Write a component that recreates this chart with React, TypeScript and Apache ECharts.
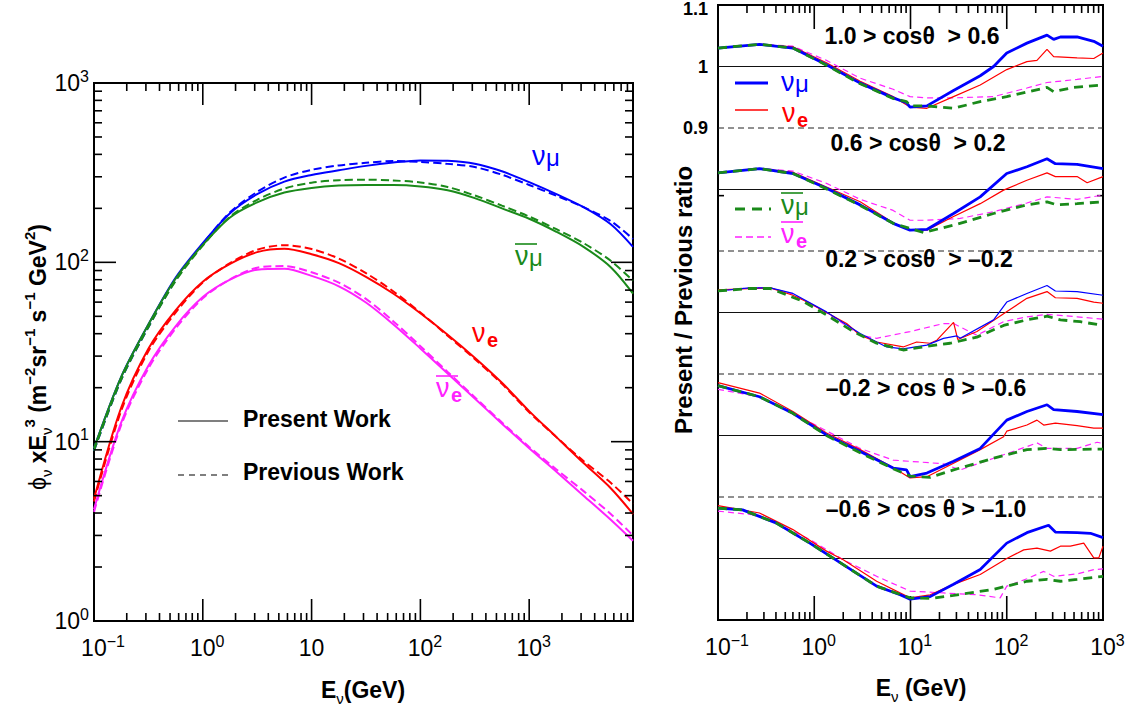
import React, { useEffect, useRef } from 'react';
import * as echarts from 'echarts';

const FONT = '"Liberation Sans", Arial, Helvetica, sans-serif';
const BLUE = '#0000ff';
const RED = '#ff0000';
const GREEN = '#1a8a1a';
const MAGENTA = '#ff22ff';

// ---------- Left panel: flux x E^3 ----------
const fluxEnergy = [0.1, 0.178, 0.316, 0.562, 1, 1.78, 3.16, 5.62, 10, 17.8, 31.6, 56.2, 100, 178, 316, 562, 1000, 1780, 3160, 5620, 9000];
const numuPresent = [9.2, 23, 45, 82, 128, 188, 240, 282, 307, 326, 345, 360, 370, 368, 355, 322, 280, 240, 203, 163, 122];
const numuPrevious = [8.9, 22.2, 43.5, 79.6, 126.7, 190, 247, 297, 328, 347, 359, 367, 363, 354, 340, 308, 270, 235, 203, 170, 135];
const numubarPresent = [9.2, 23, 45, 81, 125, 178, 216, 245, 260, 268, 270, 270, 265, 252, 228, 200, 175, 148, 122, 94, 67];
const numubarPrevious = [8.9, 22.2, 43.5, 78.6, 124, 180, 223, 258, 278, 287, 289, 286, 279, 263, 236, 207, 180, 153, 128, 102, 79];
const nuePresent = [4.8, 15.5, 33, 54, 78, 98, 114, 119, 111, 99, 83, 67, 52, 39.5, 29.4, 21.3, 14.8, 10.6, 7.6, 5.5, 3.95];
const nuePrevious = [4.64, 14.9, 31.9, 52.4, 77.2, 99, 117.5, 124.6, 118.7, 105, 87, 69, 52.5, 39, 28.9, 21, 14.6, 10.6, 7.8, 5.9, 4.5];
const nuebarPresent = [4.2, 12.8, 26.5, 44, 64, 80, 91, 92, 84, 73.5, 59.7, 45.2, 33.1, 24, 17.4, 12.6, 9.2, 6.8, 5.0, 3.67, 2.8];
const nuebarPrevious = [4.06, 12.4, 25.6, 42.7, 63, 80.4, 93.3, 95.3, 88, 77, 62.5, 47, 34.1, 24.5, 17.7, 12.8, 9.35, 7.0, 5.3, 3.95, 3.0];

// ---------- Right panel: present / previous ratio, [E (GeV), ratio] ----------
const zenithBins = ['1.0 > cosθ  > 0.6', '0.6 > cosθ  > 0.2', '0.2 > cosθ  > –0.2', '–0.2 > cos θ > –0.6', '–0.6 > cos θ > –1.0'];

const ratioNumu0 = [[0.1, 1.030], [0.27, 1.036], [0.6, 1.030], [1.34, 1.003], [3.0, 0.973], [6.6, 0.949], [9.1, 0.941], [9.9, 0.934], [14.8, 0.936], [28, 0.961], [53, 0.985], [73, 1.0], [100, 1.022], [162, 1.038], [262, 1.051], [307, 1.044], [361, 1.048], [538, 1.048], [802, 1.041], [1000, 1.033]];
const ratioNue0 = [[0.1, 1.030], [0.27, 1.036], [0.6, 1.032], [1.34, 1.006], [3.0, 0.976], [6.6, 0.951], [9.9, 0.934], [14.8, 0.932], [28, 0.951], [53, 0.970], [100, 0.995], [162, 1.008], [206, 1.010], [262, 1.028], [307, 1.016], [538, 1.014], [802, 1.013], [1000, 1.022]];
const ratioNumubar0 = [[0.1, 1.030], [0.27, 1.036], [0.6, 1.030], [1.34, 1.002], [3.0, 0.972], [6.6, 0.948], [9.1, 0.943], [9.9, 0.936], [14.8, 0.936], [28, 0.932], [53, 0.943], [100, 0.951], [262, 0.966], [307, 0.959], [497, 0.966], [1000, 0.970]];
const ratioNuebar0 = [[0.1, 1.030], [0.27, 1.036], [0.6, 1.033], [1.34, 1.010], [3.0, 0.981], [6.6, 0.963], [9.9, 0.951], [14.8, 0.949], [28, 0.949], [73, 0.951], [162, 0.965], [262, 0.974], [538, 0.979], [1000, 0.984]];

const ratioNumu1 = [[0.1, 1.027], [0.27, 1.034], [0.6, 1.026], [1.34, 1.002], [3.0, 0.975], [6.6, 0.945], [9.9, 0.934], [14.8, 0.935], [28, 0.961], [53, 0.988], [100, 1.026], [162, 1.037], [262, 1.050], [320, 1.042], [538, 1.041], [1000, 1.034]];
const ratioNue1 = [[0.1, 1.027], [0.27, 1.034], [0.6, 1.028], [1.34, 1.004], [3.0, 0.980], [6.6, 0.946], [9.9, 0.934], [14.8, 0.934], [28, 0.956], [53, 0.977], [92.7, 0.999], [162, 1.015], [262, 1.027], [320, 1.021], [538, 1.021], [684, 1.011], [1000, 1.021]];
const ratioNumubar1 = [[0.1, 1.027], [0.27, 1.034], [0.6, 1.026], [1.34, 1.001], [3.0, 0.974], [6.6, 0.945], [13.6, 0.930], [28, 0.942], [73, 0.961], [162, 0.975], [262, 0.980], [333, 0.975], [538, 0.977], [1000, 0.980]];
const ratioNuebar1 = [[0.1, 1.027], [0.27, 1.034], [0.6, 1.030], [1.34, 1.010], [3.0, 0.984], [6.6, 0.966], [9.9, 0.950], [14.8, 0.950], [32.8, 0.953], [73, 0.964], [162, 0.978], [262, 0.988], [538, 0.984], [1000, 0.991]];

const ratioNumu2 = [[0.1, 1.035], [0.21, 1.040], [0.35, 1.040], [0.6, 1.031], [1.34, 1.001], [3.0, 0.966], [5.65, 0.944], [8.4, 0.941], [14.8, 0.947], [22, 0.958], [30.3, 0.962], [32.8, 0.958], [73, 0.988], [100, 1.017], [162, 1.031], [262, 1.044], [320, 1.035], [538, 1.034], [1000, 1.028]];
const ratioNue2 = [[0.1, 1.037], [0.35, 1.040], [0.6, 1.028], [0.9, 1.015], [1.34, 1.0], [2.17, 0.982], [3.0, 0.963], [4.45, 0.952], [8.4, 0.944], [11.6, 0.952], [16, 0.950], [18.8, 0.955], [28, 0.984], [31, 0.956], [49, 0.969], [92.7, 0.998], [162, 1.023], [262, 1.034], [320, 1.024], [538, 1.023], [802, 1.017], [1000, 1.015]];
const ratioNumubar2 = [[0.1, 1.035], [0.21, 1.039], [0.35, 1.039], [0.77, 1.018], [1.34, 0.996], [2.55, 0.969], [4.45, 0.950], [8.4, 0.939], [14.8, 0.945], [25.8, 0.950], [49, 0.960], [92.7, 0.979], [162, 0.988], [262, 0.994], [361, 0.988], [582, 0.985], [1000, 0.979]];
const ratioNuebar2 = [[0.1, 1.035], [0.21, 1.040], [0.35, 1.040], [0.6, 1.030], [1.34, 1.0], [3.0, 0.963], [4.45, 0.958], [9.9, 0.969], [22, 0.982], [28, 0.982], [49, 0.963], [92.7, 0.985], [162, 0.993], [262, 0.997], [538, 0.993], [1000, 0.989]];

const ratioNumu3 = [[0.1, 1.081], [0.27, 1.063], [0.6, 1.036], [1.34, 1.001], [3.0, 0.974], [6.6, 0.947], [9.1, 0.944], [9.9, 0.933], [14.8, 0.939], [28, 0.958], [53, 0.979], [100, 1.025], [162, 1.039], [262, 1.050], [307, 1.042], [538, 1.039], [1000, 1.034]];
const ratioNue3 = [[0.1, 1.086], [0.27, 1.069], [0.6, 1.039], [1.34, 1.004], [3.0, 0.977], [6.6, 0.948], [9.9, 0.931], [14.8, 0.933], [28, 0.955], [53, 0.977], [92.7, 0.998], [100, 1.007], [162, 1.017], [206, 1.025], [242, 1.017], [320, 1.020], [538, 1.016], [802, 1.012], [1000, 1.012]];
const ratioNumubar3 = [[0.1, 1.081], [0.27, 1.063], [0.6, 1.036], [1.34, 1.0], [3.0, 0.972], [6.6, 0.946], [9.9, 0.934], [16, 0.932], [28, 0.944], [73, 0.963], [162, 0.977], [262, 0.979], [361, 0.977], [1000, 0.978]];
const ratioNuebar3 = [[0.1, 1.075], [0.27, 1.063], [0.6, 1.036], [3.0, 0.979], [6.6, 0.960], [9.9, 0.958], [22, 0.954], [32.8, 0.944], [73, 0.963], [162, 0.982], [206, 0.988], [262, 0.979], [538, 0.979], [869, 0.989], [1000, 0.987]];

const ratioNumu4 = [[0.1, 1.082], [0.18, 1.079], [0.4, 1.058], [0.9, 1.025], [2.0, 0.990], [4.45, 0.955], [7.8, 0.941], [9.9, 0.934], [16, 0.938], [28, 0.958], [53, 0.982], [100, 1.025], [162, 1.042], [272, 1.054], [320, 1.043], [538, 1.042], [740, 1.041], [1000, 1.034]];
const ratioNue4 = [[0.1, 1.086], [0.27, 1.074], [0.6, 1.047], [1.34, 1.012], [2.0, 0.998], [4.45, 0.963], [9.9, 0.936], [16, 0.941], [28, 0.958], [53, 0.974], [100, 1.0], [150, 1.014], [206, 1.017], [284, 1.012], [361, 1.020], [458, 1.020], [631, 1.025], [802, 1.001], [904, 1.001], [1000, 1.020]];
const ratioNumubar4 = [[0.1, 1.082], [0.18, 1.079], [0.4, 1.058], [0.9, 1.025], [2.0, 0.990], [4.45, 0.955], [9.9, 0.936], [16, 0.935], [28, 0.940], [73, 0.950], [162, 0.963], [262, 0.966], [361, 0.963], [538, 0.966], [1000, 0.971]];
const ratioNuebar4 = [[0.1, 1.077], [0.27, 1.070], [0.9, 1.031], [2.0, 0.998], [4.45, 0.971], [9.9, 0.947], [22, 0.944], [49, 0.941], [85.5, 0.936], [100, 0.955], [162, 0.967], [242, 0.979], [307, 0.971], [538, 0.975], [802, 0.982], [1000, 0.983]];

const ratioNumu = [ratioNumu0, ratioNumu1, ratioNumu2, ratioNumu3, ratioNumu4];
const ratioNue = [ratioNue0, ratioNue1, ratioNue2, ratioNue3, ratioNue4];
const ratioNumubar = [ratioNumubar0, ratioNumubar1, ratioNumubar2, ratioNumubar3, ratioNumubar4];
const ratioNuebar = [ratioNuebar0, ratioNuebar1, ratioNuebar2, ratioNuebar3, ratioNuebar4];

// Axis values
const leftXDecades = [0.1, 1, 10, 100, 1000];
const leftYDecades = [1, 10, 100, 1000];
const rightXDecades = [0.1, 1, 10, 100, 1000];
const minorSteps = [2, 3, 4, 5, 6, 7, 8, 9];
const blockReference = [1.0, 0.8, 0.6, 0.4, 0.2];
const blockSeparator = [0.9, 0.7, 0.5, 0.3];
const rightYTick = [0.79];

const LEFT_XMAX = 9000;

function minorOf(decades: number[], max: number) {
  const out: number[] = [];
  decades.forEach((d) => minorSteps.forEach((m) => { const v = d * m; if (v <= max) out.push(v); }));
  return out;
}

function renderTicks(params: any, api: any) {
  const cs = params.coordSys;
  const kind = api.value(2);
  const len = api.value(3);
  const p = api.coord([api.value(0), api.value(1)]);
  const l = cs.x, r = cs.x + cs.width, t = cs.y, b = cs.y + cs.height;
  const st = { stroke: '#000', lineWidth: 1.6 };
  if (kind === 0) {
    return { type: 'group', children: [
      { type: 'line', shape: { x1: p[0], y1: b, x2: p[0], y2: b - len }, style: st },
      { type: 'line', shape: { x1: p[0], y1: t, x2: p[0], y2: t + len }, style: st },
    ] };
  }
  if (kind === 1) {
    return { type: 'group', children: [
      { type: 'line', shape: { x1: l, y1: p[1], x2: l + len, y2: p[1] }, style: st },
      { type: 'line', shape: { x1: r, y1: p[1], x2: r - len, y2: p[1] }, style: st },
    ] };
  }
  if (kind === 2) {
    return { type: 'line', shape: { x1: l, y1: p[1], x2: r, y2: p[1] }, style: { stroke: '#111', lineWidth: 1 } };
  }
  return { type: 'line', shape: { x1: l, y1: p[1], x2: r, y2: p[1] }, style: { stroke: '#222', lineWidth: 1, lineDash: [6, 4] } };
}

function powLabel(v: number, plainTen: boolean) {
  const lg = Math.log10(v);
  const p = Math.round(lg);
  if (Math.abs(lg - p) > 1e-6) return '';
  if (p === 1 && plainTen) return '{b|10}';
  const sup = p < 0 ? '−' + Math.abs(p) : String(p);
  return `{${p < 0 ? 'bn' : 'bp'}|10}{s|${sup}}`;
}

const labelRich = {
  b: { fontSize: 23, fontFamily: FONT, color: '#000', lineHeight: 30 },
  bp: { fontSize: 23, fontFamily: FONT, color: '#000', lineHeight: 30, padding: [0, 0, 0, 9] },
  bn: { fontSize: 23, fontFamily: FONT, color: '#000', lineHeight: 30, padding: [0, 0, 0, 18] },
  s: { fontSize: 16, fontFamily: FONT, color: '#000', lineHeight: 16, verticalAlign: 'top' },
};
const yLabelRich = {
  b: { fontSize: 23, fontFamily: FONT, color: '#000', lineHeight: 30 },
  bp: { fontSize: 23, fontFamily: FONT, color: '#000', lineHeight: 30 },
  bn: { fontSize: 23, fontFamily: FONT, color: '#000', lineHeight: 30 },
  s: { fontSize: 16, fontFamily: FONT, color: '#000', lineHeight: 16, verticalAlign: 'top' },
};

function text(x: number, y: number, s: string, o: any = {}) {
  const align = o.align || 'left';
  return {
    type: 'text', x, y, silent: true, rotation: o.rotation || 0,
    style: {
      text: s, fill: o.color || '#000', fontSize: o.size || 23, fontWeight: o.weight || 'normal', fontFamily: FONT,
      align, verticalAlign: 'middle', textAlign: align, textVerticalAlign: 'middle', rich: o.rich,
    },
  };
}
function hline(x1: number, x2: number, y: number, color: string, w: number, dash?: number[]) {
  return { type: 'line', silent: true, shape: { x1, y1: y, x2, y2: y }, style: { stroke: color, lineWidth: w, lineDash: dash } };
}
function nuLabel(x: number, y: number, color: string, flavour: 'mu' | 'e', bar: boolean) {
  const els: any[] = [text(x, y, 'ν', { color, size: 27 })];
  if (flavour === 'mu') els.push(text(x + 14, y + 1, 'μ', { color, size: 24 }));
  else els.push(text(x + 15, y + 7, 'e', { color, size: 20, weight: 'bold' }));
  if (bar) els.push(hline(x, x + 22, y - 12, color, 1.6));
  return els;
}

function buildOption() {
  const series: any[] = [];
  const leftLine = (vals: number[], color: string, dashed: boolean) => ({
    type: 'line', xAxisIndex: 0, yAxisIndex: 0, showSymbol: false, smooth: 0.3, silent: true,
    data: fluxEnergy.map((e, i) => [e, vals[i]]),
    lineStyle: { color, width: 2, type: dashed ? [8, 4] : 'solid' },
  });
  series.push(leftLine(numuPrevious, BLUE, true), leftLine(numuPresent, BLUE, false));
  series.push(leftLine(numubarPrevious, GREEN, true), leftLine(numubarPresent, GREEN, false));
  series.push(leftLine(nuePrevious, RED, true), leftLine(nuePresent, RED, false));
  series.push(leftLine(nuebarPrevious, MAGENTA, true), leftLine(nuebarPresent, MAGENTA, false));

  const rightLine = (pairs: number[][], k: number, color: string, width: number, dash: any) => ({
    type: 'line', xAxisIndex: 1, yAxisIndex: 1, showSymbol: false, silent: true,
    data: pairs.map(([e, r]) => [e, r - 0.2 * k]),
    lineStyle: { color, width, type: dash },
  });
  for (let k = 0; k < 5; k++) {
    series.push(rightLine(ratioNuebar[k], k, MAGENTA, 1.2, [6, 4]));
    series.push(rightLine(ratioNue[k], k, RED, 1.2, 'solid'));
    series.push(rightLine(ratioNumu[k], k, BLUE, k === 2 ? 1.2 : 2.8, 'solid'));
    series.push(rightLine(ratioNumubar[k], k, GREEN, 2.8, [9, 6]));
  }

  const leftTicks: number[][] = [];
  leftXDecades.forEach((v) => leftTicks.push([v, 1, 0, 22]));
  minorOf(leftXDecades, LEFT_XMAX).forEach((v) => leftTicks.push([v, 1, 0, 8]));
  leftYDecades.forEach((v) => leftTicks.push([0.1, v, 1, 22]));
  minorOf(leftYDecades.slice(0, 3), 1000).forEach((v) => leftTicks.push([0.1, v, 1, 8]));
  series.push({ type: 'custom', xAxisIndex: 0, yAxisIndex: 0, data: leftTicks, renderItem: renderTicks, clip: false, silent: true, z: 5 });

  const rightTicks: number[][] = [];
  rightXDecades.forEach((v) => rightTicks.push([v, 0.1, 0, 24]));
  minorOf(rightXDecades.slice(0, 4), 1000).forEach((v) => rightTicks.push([v, 0.1, 0, 8]));
  rightYTick.forEach((v) => rightTicks.push([0.1, v, 1, 6]));
  blockReference.forEach((v) => rightTicks.push([0.1, v, 2, 0]));
  blockSeparator.forEach((v) => rightTicks.push([0.1, v, 3, 0]));
  series.push({ type: 'custom', xAxisIndex: 1, yAxisIndex: 1, data: rightTicks, renderItem: renderTicks, clip: false, silent: true, z: 1 });

  const graphic: any[] = [];
  // left legend
  graphic.push(hline(178, 228, 421, '#000', 1.2));
  graphic.push(hline(178, 228, 475, '#000', 1.2, [6, 5]));
  graphic.push(text(243, 419, 'Present Work', { weight: 'bold', size: 23 }));
  graphic.push(text(243, 472, 'Previous Work', { weight: 'bold', size: 23 }));
  // left curve labels
  graphic.push(...nuLabel(532, 156, BLUE, 'mu', false));
  graphic.push(...nuLabel(515, 256, GREEN, 'mu', true));
  graphic.push(...nuLabel(472, 333, RED, 'e', false));
  graphic.push(...nuLabel(436, 388, MAGENTA, 'e', true));
  // right legend
  graphic.push(hline(735, 768, 83, BLUE, 3));
  graphic.push(hline(735, 768, 110, RED, 1.3));
  graphic.push(hline(735, 771, 209, GREEN, 3, [10, 7]));
  graphic.push(hline(735, 771, 237, MAGENTA, 1.3, [7, 4]));
  graphic.push(...nuLabel(781, 82, BLUE, 'mu', false));
  graphic.push(...nuLabel(782, 113, RED, 'e', false));
  graphic.push(...nuLabel(781, 205, GREEN, 'mu', true));
  graphic.push(...nuLabel(781, 234, MAGENTA, 'e', true));
  // zenith bin labels
  const binPos = [[912, 36], [918, 143], [919, 259], [926, 388], [926, 509]];
  zenithBins.forEach((s, i) => graphic.push(text(binPos[i][0], binPos[i][1], s, { align: 'center', weight: 'bold', size: 23 })));
  // axis titles
  const titleRich = {
    m: { fontSize: 23, fontWeight: 'bold', fontFamily: FONT, color: '#000', lineHeight: 32 },
    r: { fontSize: 23, fontFamily: FONT, color: '#000', lineHeight: 32 },
    sub: { fontSize: 15, fontFamily: FONT, color: '#000', lineHeight: 15, verticalAlign: 'bottom' },
    sup: { fontSize: 15, fontWeight: 'bold', fontFamily: FONT, color: '#000', lineHeight: 15, verticalAlign: 'top' },
  };
  graphic.push(text(363, 690, '{m|E}{sub|ν}{m|(GeV)}', { align: 'center', rich: titleRich }));
  graphic.push(text(921, 688, '{m|E}{sub|ν}{m| (GeV)}', { align: 'center', rich: titleRich }));
  graphic.push(text(38, 357, '{r|ϕ}{sub|ν}{m| xE}{sub|ν}{sup|3}{m| (m}{sup|−2}{m|sr}{sup|−1}{m| s}{sup|−1}{m| GeV}{sup|2}{m|)}', { align: 'center', rich: titleRich, rotation: Math.PI / 2 }));
  graphic.push(text(683, 300, 'Present / Previous ratio', { align: 'center', weight: 'bold', size: 24, rotation: Math.PI / 2 }));

  return {
    animation: false,
    backgroundColor: '#fff',
    grid: [
      { left: 94, top: 83, width: 539, height: 538, show: true, borderColor: '#000', borderWidth: 2, backgroundColor: 'transparent' },
      { left: 718, top: 5, width: 385, height: 615, show: true, borderColor: '#000', borderWidth: 2, backgroundColor: 'transparent' },
    ],
    xAxis: [
      {
        type: 'log', logBase: 10, gridIndex: 0, min: 0.1, max: LEFT_XMAX,
        axisLine: { show: false }, axisTick: { show: false }, splitLine: { show: false },
        axisLabel: { margin: 12, formatter: (v: number) => powLabel(v, true), rich: labelRich, showMaxLabel: false },
      },
      {
        type: 'log', logBase: 10, gridIndex: 1, min: 0.1, max: 1000,
        axisLine: { show: false }, axisTick: { show: false }, splitLine: { show: false },
        axisLabel: { margin: 12, formatter: (v: number) => powLabel(v, false), rich: labelRich },
      },
    ],
    yAxis: [
      {
        type: 'log', logBase: 10, gridIndex: 0, min: 1, max: 1000,
        axisLine: { show: false }, axisTick: { show: false }, splitLine: { show: false },
        axisLabel: { margin: 5, formatter: (v: number) => powLabel(v, false), rich: yLabelRich },
      },
      {
        type: 'value', gridIndex: 1, min: 0.1, max: 1.1, interval: 0.1,
        axisLine: { show: false }, axisTick: { show: false }, splitLine: { show: false },
        axisLabel: {
          margin: 10, fontSize: 18, fontWeight: 'bold', fontFamily: FONT, color: '#000',
          formatter: (v: number) => {
            const k = Math.round(v * 10);
            if (k === 11) return '{t|1.1}';
            if (k === 10) return '1';
            if (k === 9) return '0.9';
            return '';
          },
          rich: { t: { fontSize: 18, fontWeight: 'bold', fontFamily: FONT, color: '#000', padding: [8, 0, 0, 0] } },
        },
      },
    ],
    series,
    graphic,
  };
}

export default function App() {
  const ref = useRef<HTMLDivElement>(null);
  useEffect(() => {
    if (!ref.current) return;
    const chart = echarts.init(ref.current, undefined, { renderer: 'svg' });
    chart.setOption(buildOption() as any);
    return () => chart.dispose();
  }, []);
  return <div ref={ref} style={{ position: 'fixed', left: 0, top: 0, width: 1137, height: 709, background: '#fff' }} />;
}
